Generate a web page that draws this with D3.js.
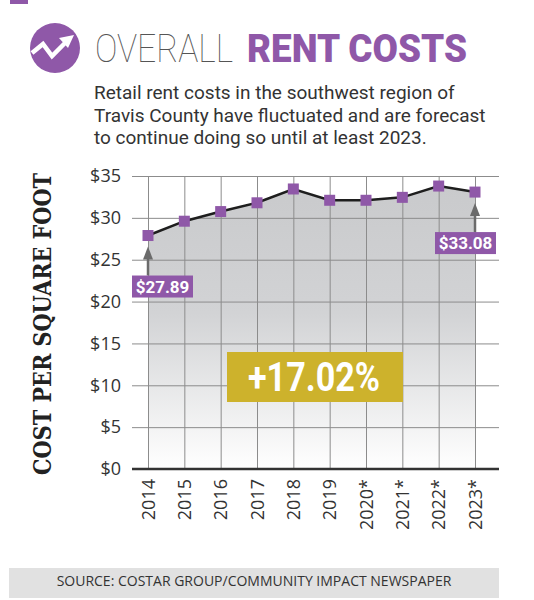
<!DOCTYPE html>
<html>
<head>
<meta charset="utf-8">
<script src="https://cdn.jsdelivr.net/npm/d3@7"></script>
<style>
  body { margin: 0; background: #fff; }
</style>
</head>
<body>
<script>
var years = ["2014", "2015", "2016", "2017", "2018", "2019", "2020*", "2021*", "2022*", "2023*"];
var rent = [27.89, 29.6, 30.75, 31.8, 33.45, 32.1, 32.1, 32.45, 33.8, 33.08];
var yTicks = [0, 5, 10, 15, 20, 25, 30, 35];
var change = "+17.02%";
var subtitle = [
  "Retail rent costs in the southwest region of",
  "Travis County have fluctuated and are forecast",
  "to continue doing so until at least 2023."
];
var source = "SOURCE: COSTAR GROUP/COMMUNITY IMPACT NEWSPAPER";

var w = 534, h = 600;
var purple = "#8f58a8";
var sans = "'Open Sans', 'Noto Sans', sans-serif";

var data = years.map(function(y, i) { return { year: y, rent: rent[i] }; });

var svg = d3.select("body").append("svg")
  .attr("width", w)
  .attr("height", h);

// small tab at the very top
svg.append("rect").attr("x", 10).attr("y", 0).attr("width", 18).attr("height", 4).attr("fill", purple);

// title icon
var icon = svg.append("g").attr("transform", "translate(55,48)");
icon.append("circle").attr("r", 25).attr("fill", purple);
icon.append("path")
  .attr("d", "M-23,5 L-12,-4 L-3,8 L10,-5")
  .attr("fill", "none").attr("stroke", "#fff").attr("stroke-width", 4.5)
  .attr("stroke-linejoin", "miter");
icon.append("path")
  .attr("d", "M19,-13 L4,-10 L13,0 Z")
  .attr("fill", "#fff");

// title
svg.append("text")
  .attr("x", 95).attr("y", 62)
  .attr("font-family", "Roboto, 'Open Sans', sans-serif")
  .attr("font-weight", 100)
  .attr("font-size", 39)
  .attr("fill", "#555")
  .attr("textLength", 138).attr("lengthAdjust", "spacingAndGlyphs")
  .text("OVERALL");
svg.append("text")
  .attr("x", 247).attr("y", 62)
  .attr("font-family", "Roboto, 'Open Sans', sans-serif")
  .attr("font-weight", 900)
  .attr("font-size", 39)
  .attr("fill", purple)
  .attr("textLength", 220).attr("lengthAdjust", "spacingAndGlyphs")
  .text("RENT COSTS");

// subtitle
svg.selectAll("text.sub")
  .data(subtitle)
  .enter()
  .append("text")
  .attr("class", "sub")
  .attr("x", 94)
  .attr("y", function(d, i) { return 99 + i * 22.5; })
  .attr("font-family", "Roboto, sans-serif")
  .attr("font-size", 19)
  .attr("fill", "#333")
  .text(function(d) { return d; });

// scales
var x = d3.scalePoint().domain(years).range([148, 475]);
var y = d3.scaleLinear().domain([0, 35]).range([469, 176]);
var left = 132, right = 499;

// gradient for the area
var grad = svg.append("defs").append("linearGradient")
  .attr("id", "areaGrad")
  .attr("x1", 0).attr("y1", 0).attr("x2", 0).attr("y2", 1);
grad.append("stop").attr("offset", "0%").attr("stop-color", "#c9cacc");
grad.append("stop").attr("offset", "45%").attr("stop-color", "#d2d3d5");
grad.append("stop").attr("offset", "100%").attr("stop-color", "#ffffff");

var area = d3.area()
  .x(function(d) { return x(d.year); })
  .y0(y(0))
  .y1(function(d) { return y(d.rent); });

svg.append("path")
  .datum(data)
  .attr("d", area)
  .attr("fill", "url(#areaGrad)");

// y axis with grid
var yAxis = svg.append("g")
  .attr("transform", "translate(" + left + ",0)")
  .call(d3.axisLeft(y).tickValues(yTicks).tickSize(-(right - left)).tickPadding(11)
    .tickFormat(function(d) { return "$" + d; }));
yAxis.select(".domain").remove();
yAxis.selectAll(".tick line").attr("stroke", "#8c8c8c").attr("stroke-width", 1);
yAxis.selectAll(".tick text")
  .attr("font-family", sans)
  .attr("font-size", 18)
  .attr("fill", "#333");

// x axis with grid
var xAxis = svg.append("g")
  .attr("transform", "translate(0," + y(0) + ")")
  .call(d3.axisBottom(x).tickSize(-(y(0) - y(35))).tickPadding(0));
xAxis.select(".domain").remove();
xAxis.selectAll(".tick line").attr("stroke", "#8c8c8c").attr("stroke-width", 1);
xAxis.selectAll(".tick text")
  .attr("font-family", sans)
  .attr("font-size", 18)
  .attr("fill", "#333")
  .attr("text-anchor", "end")
  .attr("transform", "rotate(-90)")
  .attr("x", -10)
  .attr("y", 0)
  .attr("dy", "0.35em");

// baseline
svg.append("line")
  .attr("x1", left).attr("x2", right)
  .attr("y1", y(0)).attr("y2", y(0))
  .attr("stroke", "#333").attr("stroke-width", 2.5);

// line
var line = d3.line()
  .x(function(d) { return x(d.year); })
  .y(function(d) { return y(d.rent); });

svg.append("path")
  .datum(data)
  .attr("d", line)
  .attr("fill", "none")
  .attr("stroke", "#1e1e1e")
  .attr("stroke-width", 2.5);

// markers
svg.selectAll("rect.marker")
  .data(data)
  .enter()
  .append("rect")
  .attr("class", "marker")
  .attr("x", function(d) { return x(d.year) - 5.5; })
  .attr("y", function(d) { return y(d.rent) - 5.5; })
  .attr("width", 11)
  .attr("height", 11)
  .attr("fill", purple);

// first / last value callouts
var callouts = [data[0], data[data.length - 1]];
var boxOffset = [-16, -40];
var boxW = 61, boxH = 22;

callouts.forEach(function(d, i) {
  var cx = x(d.year), cy = y(d.rent);
  var top = cy + 40;
  svg.append("line")
    .attr("x1", cx).attr("x2", cx)
    .attr("y1", top).attr("y2", cy + 22)
    .attr("stroke", "#6b6b6b").attr("stroke-width", 2.5);
  svg.append("path")
    .attr("d", "M" + cx + "," + (cy + 11) + " L" + (cx - 5) + "," + (cy + 24) + " L" + (cx + 5) + "," + (cy + 24) + " Z")
    .attr("fill", "#6b6b6b");
  svg.append("rect")
    .attr("x", cx + boxOffset[i]).attr("y", top)
    .attr("width", boxW).attr("height", boxH)
    .attr("fill", purple);
  svg.append("text")
    .attr("x", cx + boxOffset[i] + boxW / 2)
    .attr("y", top + boxH / 2)
    .attr("dy", "0.36em")
    .attr("text-anchor", "middle")
    .attr("font-family", "Roboto, sans-serif")
    .attr("font-weight", 700)
    .attr("font-size", 17)
    .attr("fill", "#fff")
    .text("$" + d.rent.toFixed(2));
});

// change box
svg.append("rect")
  .attr("x", 227).attr("y", 352)
  .attr("width", 176).attr("height", 50)
  .attr("fill", "#cdb22c");
svg.append("text")
  .attr("x", 248).attr("y", 391)
  .attr("font-family", "Roboto, sans-serif")
  .attr("font-weight", 700)
  .attr("font-size", 40)
  .attr("fill", "#fff")
  .attr("textLength", 132).attr("lengthAdjust", "spacingAndGlyphs")
  .text(change);

// y axis title
svg.append("text")
  .attr("transform", "translate(51,475) rotate(-90)")
  .attr("font-family", "'DejaVu Serif', 'Liberation Serif', serif")
  .attr("font-weight", 700)
  .attr("font-size", 25)
  .attr("fill", "#222")
  .attr("textLength", 302).attr("lengthAdjust", "spacingAndGlyphs")
  .text("COST PER SQUARE FOOT");

// source bar
svg.append("rect")
  .attr("x", 9).attr("y", 568)
  .attr("width", 490).attr("height", 30)
  .attr("fill", "#e1e1e1");
svg.append("text")
  .attr("x", 254).attr("y", 586)
  .attr("text-anchor", "middle")
  .attr("font-family", sans)
  .attr("font-size", 14)
  .attr("fill", "#333")
  .text(source);
</script>
</body>
</html>
